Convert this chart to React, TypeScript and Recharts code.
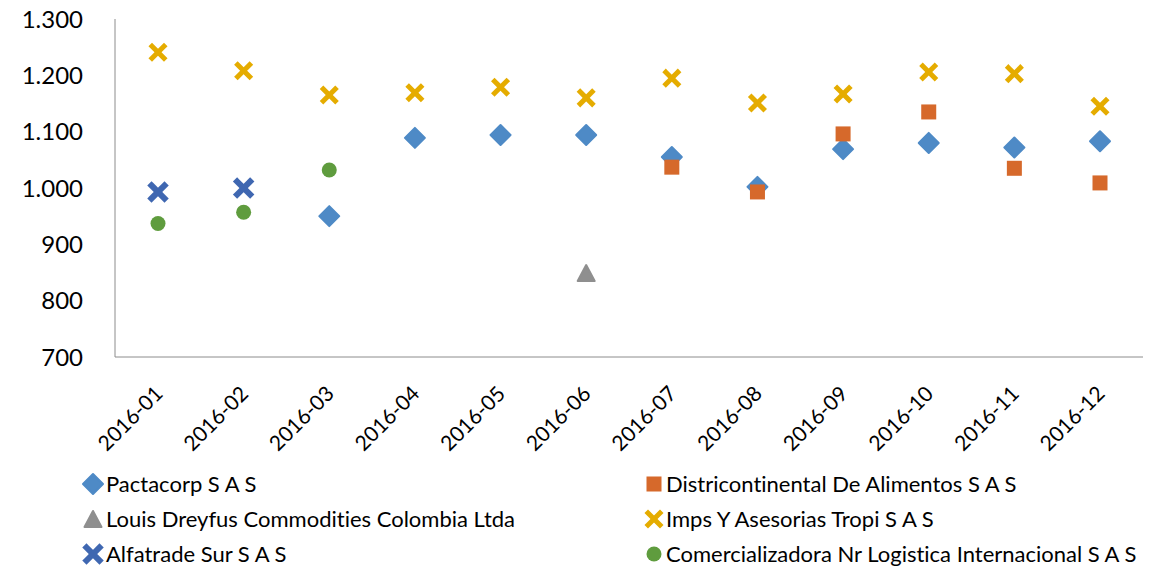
import { ComposedChart, Scatter, XAxis, YAxis, Legend } from "recharts"

const months = [
  "2016-01", "2016-02", "2016-03", "2016-04", "2016-05", "2016-06",
  "2016-07", "2016-08", "2016-09", "2016-10", "2016-11", "2016-12",
]

const pactacorp = [null, null, 950, 1089, 1094, 1094, 1055, 1002, 1069, 1080, 1072, 1083]
const districontinental = [null, null, null, null, null, null, 1037, 993, 1096, 1135, 1035, 1009]
const louisDreyfus = [null, null, null, null, null, 849, null, null, null, null, null, null]
const impsTropi = [1241, 1208, 1165, 1169, 1179, 1160, 1195, 1151, 1167, 1206, 1203, 1145]
const alfatrade = [993, 1000, null, null, null, null, null, null, null, null, null, null]
const comercializadora = [937, 957, 1032, null, null, null, null, null, null, null, null, null]

const yTicks = [700, 800, 900, 1000, 1100, 1200, 1300]

const FONT = "Lato, 'Liberation Sans', sans-serif"

type Kind = "diamond" | "square" | "triangle" | "x" | "xbig" | "circle"

const series: { key: string; name: string; color: string; kind: Kind; values: (number | null)[] }[] = [
  { key: "pactacorp", name: "Pactacorp S A S", color: "#4E8AC6", kind: "diamond", values: pactacorp },
  { key: "districontinental", name: "Districontinental De Alimentos S A S", color: "#D6692B", kind: "square", values: districontinental },
  { key: "louis", name: "Louis Dreyfus Commodities Colombia Ltda", color: "#8F8F8F", kind: "triangle", values: louisDreyfus },
  { key: "imps", name: "Imps Y Asesorias Tropi S A S", color: "#E5AC00", kind: "x", values: impsTropi },
  { key: "alfatrade", name: "Alfatrade Sur S A S", color: "#3F67B1", kind: "xbig", values: alfatrade },
  { key: "comercializadora", name: "Comercializadora Nr Logistica Internacional S A S", color: "#5F9C3E", kind: "circle", values: comercializadora },
]

const data = months.map((m, i) => {
  const row: Record<string, string | number | null> = { month: m }
  series.forEach((s) => {
    row[s.key] = s.values[i]
  })
  return row
})

function Marker({ kind, color, cx, cy }: { kind: Kind; color: string; cx: number; cy: number }) {
  switch (kind) {
    case "diamond":
      return (
        <polygon
          points={`${cx},${cy - 10} ${cx + 10},${cy} ${cx},${cy + 10} ${cx - 10},${cy}`}
          fill={color}
          stroke={color}
          strokeWidth={2}
          strokeLinejoin="round"
        />
      )
    case "square":
      return <rect x={cx - 7.5} y={cy - 7.5} width={15} height={15} fill={color} />
    case "triangle":
      return (
        <polygon
          points={`${cx},${cy - 8} ${cx + 8.5},${cy + 8} ${cx - 8.5},${cy + 8}`}
          fill={color}
          stroke={color}
          strokeWidth={2}
          strokeLinejoin="round"
        />
      )
    case "x":
      return (
        <g stroke={color} strokeWidth={5} strokeLinecap="square">
          <line x1={cx - 6} y1={cy - 6} x2={cx + 6} y2={cy + 6} />
          <line x1={cx - 6} y1={cy + 6} x2={cx + 6} y2={cy - 6} />
        </g>
      )
    case "xbig":
      return (
        <g stroke={color} strokeWidth={6} strokeLinecap="square">
          <line x1={cx - 6.5} y1={cy - 6.5} x2={cx + 6.5} y2={cy + 6.5} />
          <line x1={cx - 6.5} y1={cy + 6.5} x2={cx + 6.5} y2={cy - 6.5} />
        </g>
      )
    case "circle":
      return <circle cx={cx} cy={cy} r={7.5} fill={color} />
  }
}

const makeShape = (key: string, kind: Kind, color: string) => (props: any) => {
  const { cx, cy, payload } = props
  if (payload == null || payload[key] == null || cx == null || cy == null) return <g />
  return <Marker kind={kind} color={color} cx={cx} cy={cy} />
}

const fmtY = (v: number) => v.toLocaleString("de-DE")

function MonthTick(props: any) {
  const { x, y, payload } = props
  const ax = x + 6
  const ay = y + 30
  return (
    <text
      x={ax}
      y={ay}
      transform={`rotate(-45, ${ax}, ${ay})`}
      textAnchor="end"
      fontFamily={FONT}
      fontSize={21}
      fill="#000"
    >
      {payload.value}
    </text>
  )
}

function LegendBox() {
  return (
    <div
      style={{
        position: "relative",
        width: 1158,
        height: 100,
        fontFamily: FONT,
        fontSize: 22,
        color: "#000",
        fontVariantLigatures: "none",
      }}
    >
      {series.map((s, i) => {
        const col = i % 2
        const row = Math.floor(i / 2)
        const center = 17 + row * 35
        const markerX = col === 0 ? 93 : 654
        const textX = col === 0 ? 106 : 666
        return (
          <div key={s.key}>
            <svg
              width={24}
              height={24}
              style={{ position: "absolute", left: markerX - 12, top: center - 12 }}
            >
              <Marker kind={s.kind} color={s.color} cx={12} cy={12} />
            </svg>
            <span
              style={{
                position: "absolute",
                left: textX,
                top: center - 13,
                lineHeight: "26px",
                whiteSpace: "nowrap",
              }}
            >
              {s.name}
            </span>
          </div>
        )
      })}
    </div>
  )
}

export default function App() {
  return (
    <div style={{ position: "absolute", left: 0, top: 0, width: 1158, height: 567, background: "#fff" }}>
      <ComposedChart width={1158} height={567} data={data} margin={{ top: 19, right: 15, left: 0, bottom: 0 }}>
        <XAxis
          dataKey="month"
          type="category"
          height={110}
          padding={{ left: 43, right: 43 }}
          axisLine={{ stroke: "#8C8C8C", strokeWidth: 1 }}
          tickLine={false}
          tick={<MonthTick />}
          interval={0}
        />
        <YAxis
          type="number"
          domain={[700, 1300]}
          ticks={yTicks}
          width={115}
          tickFormatter={fmtY}
          axisLine={{ stroke: "#8C8C8C", strokeWidth: 1 }}
          tickLine={false}
          tickSize={0}
          tickMargin={32}
          tick={{ fontFamily: FONT, fontSize: 24, fill: "#000" }}
          allowDataOverflow
        />
        <Legend verticalAlign="bottom" content={() => <LegendBox />} />
        {series.map((s) => (
          <Scatter
            key={s.key}
            name={s.name}
            dataKey={s.key}
            fill={s.color}
            shape={makeShape(s.key, s.kind, s.color)}
            isAnimationActive={false}
          />
        ))}
      </ComposedChart>
    </div>
  )
}
